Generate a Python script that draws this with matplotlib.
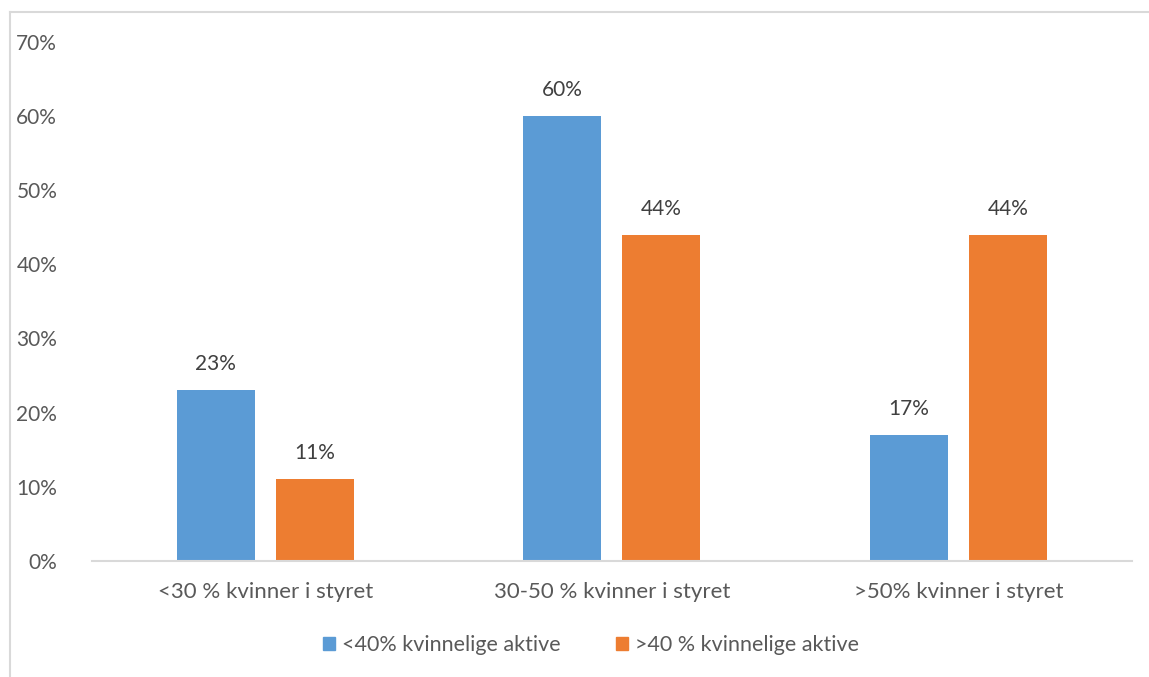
import numpy as np
import matplotlib.pyplot as plt
from matplotlib.lines import Line2D
from matplotlib.patches import Patch

categories = ["<30 % kvinner i styret", "30-50 % kvinner i styret", ">50% kvinner i styret"]
series_names = ["<40% kvinnelige aktive", ">40 % kvinnelige aktive"]
under_40 = [0.23, 0.60, 0.17]
over_40 = [0.11, 0.44, 0.44]
yticks = [0.0, 0.1, 0.2, 0.3, 0.4, 0.5, 0.6, 0.7]

blue = "#5b9bd5"
orange = "#ed7d31"
grey_text = "#595959"
label_text = "#404040"
line_col = "#d9d9d9"

plt.rcParams['font.family'] = ['Lato', 'DejaVu Sans']

fig = plt.figure(figsize=(11.49, 6.77), dpi=100)
ax = fig.add_axes([0.080, 0.1713, 0.905, 0.767])

x = np.arange(len(categories))
w = 0.225
off = 0.143

b1 = ax.bar(x - off, under_40, w, color=blue, label=series_names[0])
b2 = ax.bar(x + off, over_40, w, color=orange, label=series_names[1])

for bars, vals in ((b1, under_40), (b2, over_40)):
    for rect, v in zip(bars, vals):
        ax.annotate(f"{v*100:.0f}%", (rect.get_x() + rect.get_width() / 2, v),
                    xytext=(0, 26), textcoords="offset pixels",
                    ha="center", va="center", fontsize=15, color=label_text)

ax.set_xlim(-0.5, 2.5)
ax.set_ylim(0, 0.7)
ax.set_yticks(yticks)
ax.set_yticklabels([f"{t*100:.0f}%" for t in yticks])
ax.set_xticks(x)
ax.set_xticklabels(categories)
ax.tick_params(axis="y", length=0, pad=25, labelsize=15, labelcolor=grey_text)
ax.tick_params(axis="x", length=0, pad=15, labelsize=16, labelcolor=grey_text)

for s in ("top", "right", "left"):
    ax.spines[s].set_visible(False)
ax.spines["bottom"].set_color(line_col)
ax.spines["bottom"].set_linewidth(1.5)

# outer chart frame (left and top edges)
fig.add_artist(Line2D([10 / 1149, 10 / 1149], [0, 1 - 12 / 677], color=line_col, lw=1.5))
fig.add_artist(Line2D([10 / 1149, 1], [1 - 12 / 677, 1 - 12 / 677], color=line_col, lw=1.5))

handles = [Patch(color=blue), Patch(color=orange)]
fig.legend(handles, series_names, loc="center", bbox_to_anchor=(591 / 1149, 1 - 645 / 677),
           ncol=2, frameon=False, fontsize=15.5, labelcolor=grey_text,
           handlelength=0.55, handleheight=0.55, handletextpad=0.3, columnspacing=2.6)

fig.savefig("out.png", dpi=100)
